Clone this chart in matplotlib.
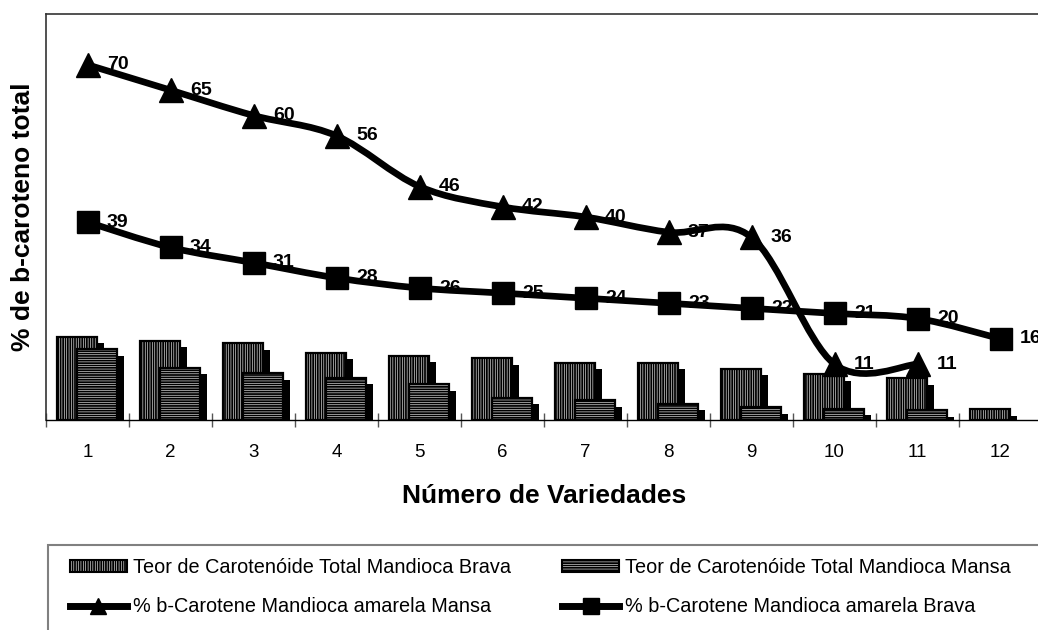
import numpy as np
import matplotlib
matplotlib.use("Agg")
import matplotlib.pyplot as plt
from matplotlib.path import Path
from matplotlib.patches import PathPatch, Rectangle, Patch
from matplotlib.lines import Line2D

plt.rcParams['font.family'] = ['Liberation Sans', 'DejaVu Sans']
plt.rcParams['hatch.linewidth'] = 1.3

varieties = list(range(1, 13))
carot_brava = [16.4, 15.6, 15.1, 13.3, 12.7, 12.2, 11.3, 11.3, 10.1, 9.0, 8.2, 2.1]
carot_mansa = [14.0, 10.3, 9.2, 8.3, 7.1, 4.4, 3.9, 3.2, 2.5, 2.2, 1.9]
beta_mansa = [70, 65, 60, 56, 46, 42, 40, 37, 36, 11, 11]
beta_brava = [39, 34, 31, 28, 26, 25, 24, 23, 22, 21, 20, 16]

labels = ["Teor de Carotenóide Total Mandioca Brava",
          "% b-Carotene Mandioca amarela Mansa",
          "Teor de Carotenóide Total Mandioca Mansa",
          "% b-Carotene Mandioca amarela Brava"]


def smooth_path(xs, ys):
    # excel style smoothed line: bezier segments through the points
    pts = np.column_stack([xs, ys]).astype(float)
    n = len(pts)
    verts = [pts[0]]
    codes = [Path.MOVETO]
    for i in range(n - 1):
        p0 = pts[max(i - 1, 0)]
        p1 = pts[i]
        p2 = pts[i + 1]
        p3 = pts[min(i + 2, n - 1)]
        verts += [p1 + (p2 - p0) / 6, p2 - (p3 - p1) / 6, p2]
        codes += [Path.CURVE4] * 3
    return Path(verts, codes)


fig = plt.figure(figsize=(10.38, 6.3), dpi=100)
ax = fig.add_axes([46 / 1038, 1 - 420 / 630, 996 / 1038, 406 / 630])

w = 0.49
dx, dh = 0.075, 1.3
xb = np.array(varieties) - 0.125
xm = np.array(varieties[:len(carot_mansa)]) + 0.115

ax.bar(xb + dx, np.array(carot_brava) - dh, w, color='black', lw=0, zorder=1)
ax.bar(xb, carot_brava, w, facecolor='white', edgecolor='black', hatch='|||||||', lw=1.6, zorder=2)
ax.bar(xm + dx, np.array(carot_mansa) - dh, w, color='black', lw=0, zorder=3)
ax.bar(xm, carot_mansa, w, facecolor='white', edgecolor='black', hatch='-------', lw=1.6, zorder=3.5)

xt = varieties[:len(beta_mansa)]
ax.add_patch(PathPatch(smooth_path(xt, beta_mansa), facecolor='none', edgecolor='black',
                       lw=4.8, zorder=5, transform=ax.transData))
ax.add_patch(PathPatch(smooth_path(varieties, beta_brava), facecolor='none', edgecolor='black',
                       lw=4.8, zorder=5, transform=ax.transData))
ax.plot(xt, beta_mansa, linestyle='none', marker='^', ms=17, color='black', zorder=6)
ax.plot(varieties, beta_brava, linestyle='none', marker='s', ms=16, color='black', zorder=6)

for x, v in zip(xt, beta_mansa):
    ax.annotate(str(v), (x, v), xytext=(14, 0), textcoords='offset points', ha='left',
                va='center', fontsize=14, fontweight='bold', zorder=4)
for x, v in zip(varieties, beta_brava):
    ax.annotate(str(v), (x, v), xytext=(14, 0), textcoords='offset points', ha='left',
                va='center', fontsize=14, fontweight='bold', zorder=4)

ax.set_xlim(0.5, 12.5)
ax.set_ylim(0, 80)
ax.set_yticks([])
ax.set_xticks(varieties)
ax.set_xticks(np.arange(0.5, 13, 1), minor=True)
ax.tick_params(axis='x', which='major', length=0, pad=17, labelsize=13.5)
ax.tick_params(axis='x', which='minor', length=9.4, direction='inout', color='#555555', width=1)
ax.spines['right'].set_visible(False)
for s in ('left', 'top'):
    ax.spines[s].set_color('#333333')
    ax.spines[s].set_linewidth(1.2)
ax.spines['bottom'].set_linewidth(1.0)

ax.set_xlabel("Número de Variedades", fontsize=19, fontweight='bold', labelpad=17)
ax.set_ylabel("% de b-caroteno total", fontsize=19, fontweight='bold', labelpad=8)

handles = [Patch(facecolor='white', edgecolor='black', hatch='|||||||', lw=1.5),
           Line2D([], [], color='black', lw=5, marker='^', ms=12),
           Patch(facecolor='white', edgecolor='black', hatch='-------', lw=1.5),
           Line2D([], [], color='black', lw=5, marker='s', ms=11)]
fig.legend(handles, labels, ncol=2, loc='upper left', bbox_to_anchor=(70 / 1038, 1 - 558 / 630),
           frameon=False, fontsize=14.3, borderpad=0, borderaxespad=0, handlelength=2.86,
           handleheight=0.5, handletextpad=0.3, columnspacing=2.6, labelspacing=1.0)

fig.add_artist(Rectangle((48 / 1038, -0.2), 1.2, (1 - 545 / 630) + 0.2, transform=fig.transFigure,
                         fill=False, edgecolor='#808080', lw=1.5, clip_on=False))

fig.savefig('out.png', dpi=100)
